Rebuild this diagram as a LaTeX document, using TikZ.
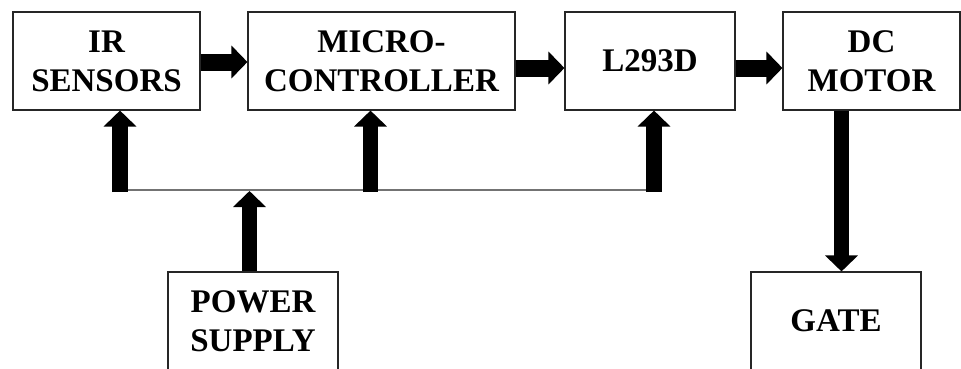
\documentclass[tikz,border=0pt]{standalone}
\usepackage{fontspec}
\setmainfont{Liberation Serif}
\usetikzlibrary{arrows.meta}
\begin{document}
\begin{tikzpicture}[x=1pt,y=-1pt,
  block/.style={draw=black!85,line width=1.1pt,fill=white,align=center,
    inner sep=0pt,font=\bfseries\fontsize{33}{39}\selectfont},
  bigarrow/.style={line width=17pt,black,
    -{Triangle[length=16pt,width=32pt]}},
  bus/.style={draw=black!55,line width=2pt}]
\useasboundingbox (0,0) rectangle (961,368);
\clip (0,0) rectangle (961,368);

% blocks
\node[block,minimum width=187pt,minimum height=98pt] (ir) at (106.5,61) {IR\\SENSORS};
\node[block,minimum width=267pt,minimum height=98pt] (mcu) at (381.5,61) {MICRO-\\CONTROLLER};
\node[block,minimum width=170pt,minimum height=98pt] (drv) at (650,61) {L293D};
\node[block,minimum width=177pt,minimum height=98pt] (dc) at (871.5,61) {DC\\MOTOR};
\node[block,minimum width=170pt,minimum height=98pt] (psu) at (253,321) {POWER\\SUPPLY};
\node[block,minimum width=170pt,minimum height=98pt] (gate) at (836,321) {GATE};

% supply bus
\coordinate (bl) at (120,190);
\coordinate (bm) at (370.5,190);
\coordinate (br) at (654,190);
\coordinate (bp) at (249.5,190);
\coordinate (bd) at (841.5,190);
\draw[bus] (bl) -- (br);

% signal path
\draw[bigarrow] ([yshift=-1pt]ir.east) -- ([yshift=-1pt]mcu.west);
\draw[bigarrow] ([yshift=-7pt]mcu.east) -- ([yshift=-7pt]drv.west);
\draw[bigarrow] ([yshift=-7pt]drv.east) -- ([yshift=-7pt]dc.west);
\draw[bigarrow,line width=15pt] (dc.south -| bd) -- (gate.north -| bd);

% power distribution
\draw[bigarrow,line width=15pt] (psu.north -| bp) -- ([yshift=-1pt]bp);
\draw[bigarrow,line width=16pt] ([yshift=-2pt]bl) -- (ir.south -| bl);
\draw[bigarrow,line width=15pt] ([yshift=-2pt]bm) -- (mcu.south -| bm);
\draw[bigarrow,line width=16pt] ([yshift=-2pt]br) -- (drv.south -| br);
\end{tikzpicture}
\end{document}
